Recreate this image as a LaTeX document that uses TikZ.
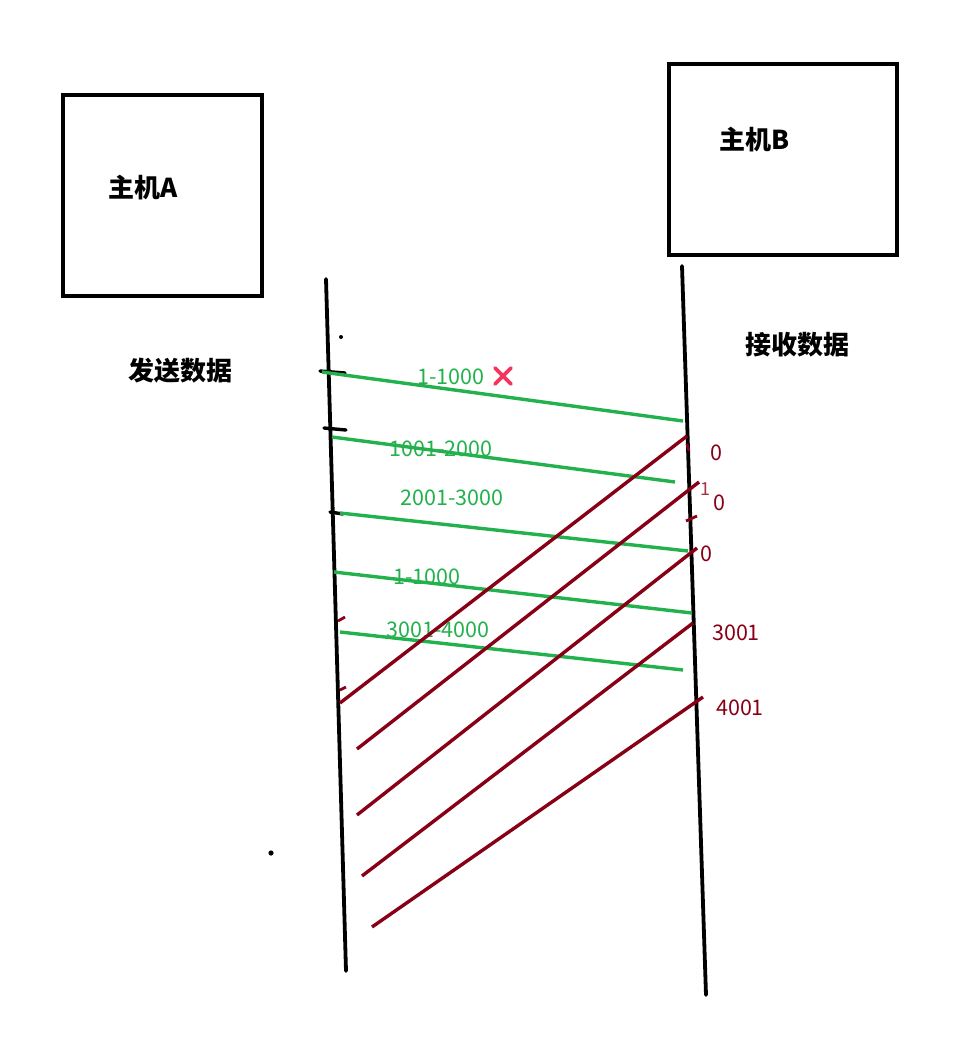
\documentclass[tikz,border=0pt]{standalone}
\usepackage{fontspec}
\newfontfamily\cjk{Noto Sans CJK SC}
\usetikzlibrary{arrows.meta, positioning, calc}
\definecolor{segGreen}{HTML}{22B14C}
\definecolor{ackRed}{HTML}{880015}
\definecolor{lostPink}{HTML}{F5365C}

\begin{document}
\begin{tikzpicture}[
    x=1pt, y=-1pt,
    host/.style={draw, rectangle, line width=4pt, inner sep=0pt},
    title/.style={font=\cjk\bfseries\fontsize{26}{30}\selectfont, inner sep=0pt},
    timeline/.style={line width=3.8pt, line cap=round},
    seg/.style={segGreen, line width=3.4pt},
    ack/.style={ackRed, line width=3.4pt},
    seglabel/.style={text=segGreen, font=\cjk\fontsize{21.5}{24}\selectfont, inner sep=0pt},
    acklabel/.style={text=ackRed, font=\cjk\fontsize{21.5}{24}\selectfont, inner sep=0pt},
    tick/.style={line width=3.4pt, line cap=round},
    redtick/.style={ackRed, line width=2.8pt}
]
\useasboundingbox (0,0) rectangle (969,1061);

% Hosts
\node[host, minimum width=199pt, minimum height=201pt] (hostA) at (162.5,195.5) {};
\node[host, minimum width=228pt, minimum height=191pt] (hostB) at (783,159.5) {};
\node[title] (nameA) at (143,188) {主机A};
\node[title] (nameB) at (755,140) {主机B};
\node[title] (send) at (180,371) {发送数据};
\node[title] (recv) at (797,345) {接收数据};

% Time lines
\coordinate (Atop) at (326,279);
\coordinate (Abot) at (346,971);
\coordinate (Btop) at (682,266);
\coordinate (Bbot) at (706,995);
\draw[timeline] (Atop) -- (Abot);
\draw[timeline] (Btop) -- (Bbot);

% small marks on the time lines
\draw[tick] (320,371) -- (345,373);
\draw[tick] (324,428) -- (346,430);
\draw[tick] (330,512) -- (343,514);
\fill (341,337) circle (2pt);
\fill (271,853) circle (2.6pt);
\draw[redtick] (687,444) -- (689,451);
\draw[redtick] (686,521) -- (697,516);
\draw[redtick] (338,621) -- (345,617);
\draw[redtick] (340,690) -- (346,687);

% Data segments A -> B
\coordinate (s1) at (322,372);  \coordinate (r1) at (683,421);
\coordinate (s2) at (332,437);  \coordinate (r2) at (675,482);
\coordinate (s3) at (340,513);  \coordinate (r3) at (688,551);
\coordinate (s4) at (334,572);  \coordinate (r4) at (692,613);
\coordinate (s5) at (340,632);  \coordinate (r5) at (683,670);
\draw[seg] (s1) -- (r1);
\draw[seg] (s2) -- (r2);
\draw[seg] (s3) -- (r3);
\draw[seg] (s4) -- (r4);
\draw[seg] (s5) -- (r5);
\node[seglabel] (l1) at (451,377) {1-1000};
\node[seglabel] (l2) at (441,449) {1001-2000};
\node[seglabel] (l3) at (452,498) {2001-3000};
\node[seglabel] (l4) at (427,577) {1-1000};
\node[seglabel] (l5) at (438,630) {3001-4000};

% lost mark
\coordinate (lost) at (503,376);
\draw[lostPink, line width=3.8pt, line cap=round] ($(lost)+(-8,-8)$) -- ($(lost)+(8,8)$);
\draw[lostPink, line width=3.8pt, line cap=round] ($(lost)+(8,-8)$) -- ($(lost)+(-8,8)$);

% Acks B -> A
\coordinate (b1) at (687,436);  \coordinate (a1) at (340,703);
\coordinate (b2) at (699,482);  \coordinate (a2) at (357,749);
\coordinate (b3) at (697,548);  \coordinate (a3) at (357,815);
\coordinate (b4) at (693,623);  \coordinate (a4) at (362,876);
\coordinate (b5) at (703,697);  \coordinate (a5) at (372,927);
\draw[ack] (b1) -- (a1);
\draw[ack] (b2) -- (a2);
\draw[ack] (b3) -- (a3);
\draw[ack] (b4) -- (a4);
\draw[ack] (b5) -- (a5);
\node[acklabel] (n1) at (716,453) {0};
\node[acklabel] (n2) at (719,503) {0};
\node[acklabel] (n3) at (706,554) {0};
\node[acklabel] (n4) at (736,633) {3001};
\node[acklabel] (n5) at (740,708) {4001};
\node[text=ackRed!80, font=\cjk\fontsize{18}{20}\selectfont, inner sep=0pt] (n0) at (705,489) {1};

\end{tikzpicture}
\end{document}
